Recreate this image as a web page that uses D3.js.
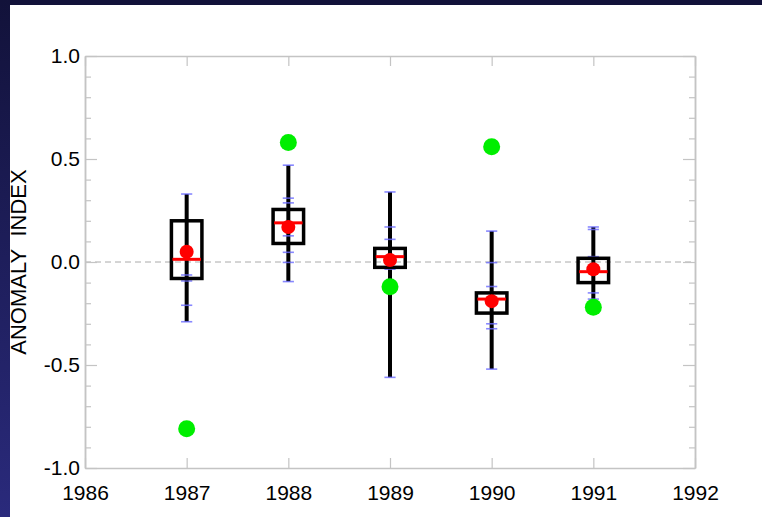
<!DOCTYPE html>
<html>
<head>
<meta charset="utf-8">
<script src="https://cdn.jsdelivr.net/npm/d3@7"></script>
<style>
  html, body { margin: 0; padding: 0; background: #fff; }
  svg { display: block; }
  text { font-family: "Liberation Sans", Arial, Helvetica, sans-serif; white-space: pre; }
</style>
</head>
<body>
<svg id="chart" width="762" height="517"></svg>
<script>
// ---- data ----
const years       = [1987, 1988, 1989, 1990, 1991];
const whiskerMax  = [0.33, 0.47, 0.34, 0.15, 0.17];
const whiskerMin  = [-0.29, -0.095, -0.56, -0.52, -0.23];
const boxTop      = [0.20, 0.255, 0.066, -0.15, 0.018];
const boxBottom   = [-0.08, 0.09, -0.026, -0.248, -0.10];
const medians     = [0.013, 0.19, 0.026, -0.18, -0.047];
const means       = [0.05, 0.17, 0.01, -0.19, -0.035];
const observed    = [-0.81, 0.58, -0.12, 0.56, -0.22];
const blueTicks   = [
  [0.33, -0.063, -0.092, -0.21, -0.29],
  [0.47, 0.31, 0.287, 0.127, 0.047, -0.002, -0.095],
  [0.34, 0.17, 0.11, -0.035, -0.56],
  [0.15, -0.003, -0.119, -0.30, -0.324, -0.52],
  [0.17, 0.158, 0.026, -0.15, -0.18]
];
const xTickValues = [1986, 1987, 1988, 1989, 1990, 1991, 1992];
const yTickValues = [-1.0, -0.5, 0.0, 0.5, 1.0];
const yMinorTicks = [-0.9, -0.8, -0.7, -0.6, -0.4, -0.3, -0.2, -0.1, 0.1, 0.2, 0.3, 0.4, 0.6, 0.7, 0.8, 0.9];
const yLabel = "ANOMALY  INDEX";

// ---- layout ----
const svg = d3.select("#chart");
const W = 762, H = 517;
const plot = { left: 85, right: 695, top: 56, bottom: 468 };

// slide background bands
const defs = svg.append("defs");
const grad = defs.append("linearGradient").attr("id", "sideGrad")
  .attr("x1", 0).attr("y1", 0).attr("x2", 0).attr("y2", 1);
grad.append("stop").attr("offset", "0%").attr("stop-color", "#12123a");
grad.append("stop").attr("offset", "100%").attr("stop-color", "#2a2a7c");
svg.append("rect").attr("x", 0).attr("y", 0).attr("width", W).attr("height", H).attr("fill", "#fff");
svg.append("rect").attr("x", 0).attr("y", 0).attr("width", W).attr("height", 5).attr("fill", "#12123a");
svg.append("rect").attr("x", 0).attr("y", 0).attr("width", 10).attr("height", H).attr("fill", "url(#sideGrad)");

const x = d3.scaleLinear().domain([1986, 1992]).range([plot.left, plot.right]);
const y = d3.scaleLinear().domain([-1, 1]).range([plot.bottom, plot.top]);

const axisColor = "#c4c4c4";
const g = svg.append("g");

// zero dashed line
g.append("line")
  .attr("x1", plot.left).attr("x2", plot.right)
  .attr("y1", y(0)).attr("y2", y(0))
  .attr("stroke", "#aaaaaa").attr("stroke-width", 1)
  .attr("stroke-dasharray", "6,4");

function styleAxis(sel) {
  sel.select(".domain").attr("stroke", axisColor).attr("stroke-width", 1.5);
  sel.selectAll(".tick line").attr("stroke", axisColor).attr("stroke-width", 1.2);
  sel.selectAll(".tick text").attr("fill", "#000").attr("font-size", "21px")
     .attr("font-family", "Liberation Sans, Arial, sans-serif");
}

// bottom axis
const gb = g.append("g").attr("transform", `translate(0,${plot.bottom})`)
  .call(d3.axisBottom(x).tickValues(xTickValues).tickFormat(d3.format("d"))
        .tickSizeInner(-10).tickSizeOuter(0).tickPadding(17));
styleAxis(gb);
// top axis
const gt = g.append("g").attr("transform", `translate(0,${plot.top})`)
  .call(d3.axisTop(x).tickValues(xTickValues).tickFormat("")
        .tickSizeInner(-10).tickSizeOuter(0));
styleAxis(gt);
// left axis major
const gl = g.append("g").attr("transform", `translate(${plot.left},0)`)
  .call(d3.axisLeft(y).tickValues(yTickValues).tickFormat(d3.format(".1f"))
        .tickSizeInner(-12).tickSizeOuter(0).tickPadding(5));
styleAxis(gl);
gl.selectAll(".tick text").text(d => d3.format(".1f")(d).replace("−", "-"));
// left minor
const glm = g.append("g").attr("transform", `translate(${plot.left},0)`)
  .call(d3.axisLeft(y).tickValues(yMinorTicks).tickFormat("")
        .tickSizeInner(-6).tickSizeOuter(0));
styleAxis(glm);
// right axis
const gr = g.append("g").attr("transform", `translate(${plot.right},0)`)
  .call(d3.axisRight(y).tickValues(yTickValues).tickFormat("")
        .tickSizeInner(-12).tickSizeOuter(0));
styleAxis(gr);
const grm = g.append("g").attr("transform", `translate(${plot.right},0)`)
  .call(d3.axisRight(y).tickValues(yMinorTicks).tickFormat("")
        .tickSizeInner(-6).tickSizeOuter(0));
styleAxis(grm);

// y label (non-breaking spaces keep the double gap)
svg.append("text")
  .attr("transform", `translate(26,${y(0)}) rotate(-90)`)
  .attr("text-anchor", "middle")
  .attr("font-size", "22px")
  .attr("fill", "#000")
  .text(yLabel.replace(/ /g, "\u00A0"));

// ---- marks ----
const data = years.map((yr, i) => ({
  yr, max: whiskerMax[i], min: whiskerMin[i], q3: boxTop[i], q1: boxBottom[i],
  med: medians[i], mean: means[i], obs: observed[i], ticks: blueTicks[i]
}));
const halfBox = 0.15; // in years
const marks = g.append("g");

// whiskers
marks.selectAll(".whisker").data(data).join("line")
  .attr("x1", d => x(d.yr)).attr("x2", d => x(d.yr))
  .attr("y1", d => y(d.max)).attr("y2", d => y(d.min))
  .attr("stroke", "#000").attr("stroke-width", 4);

// blue ticks
data.forEach(d => {
  marks.selectAll(null).data(d.ticks).join("line")
    .attr("x1", x(d.yr - 0.055)).attr("x2", x(d.yr + 0.055))
    .attr("y1", v => y(v)).attr("y2", v => y(v))
    .attr("stroke", "#6a6aff").attr("stroke-opacity", 0.8).attr("stroke-width", 1.6);
});

// boxes
marks.selectAll(".box").data(data).join("rect")
  .attr("x", d => x(d.yr - halfBox))
  .attr("width", d => x(d.yr + halfBox) - x(d.yr - halfBox))
  .attr("y", d => y(d.q3))
  .attr("height", d => y(d.q1) - y(d.q3))
  .attr("fill", "none").attr("stroke", "#000").attr("stroke-width", 3.5);

// mean red dots
marks.selectAll(".mean").data(data).join("circle")
  .attr("cx", d => x(d.yr)).attr("cy", d => y(d.mean)).attr("r", 7)
  .attr("fill", "#ff0000");

// median red lines
marks.selectAll(".median").data(data).join("line")
  .attr("x1", d => x(d.yr - halfBox + 0.01)).attr("x2", d => x(d.yr + halfBox - 0.01))
  .attr("y1", d => y(d.med)).attr("y2", d => y(d.med))
  .attr("stroke", "#ff0000").attr("stroke-width", 3);

// observed green dots
marks.selectAll(".obs").data(data).join("circle")
  .attr("cx", d => x(d.yr)).attr("cy", d => y(d.obs)).attr("r", 8.5)
  .attr("fill", "#00ee00");
</script>
</body>
</html>
